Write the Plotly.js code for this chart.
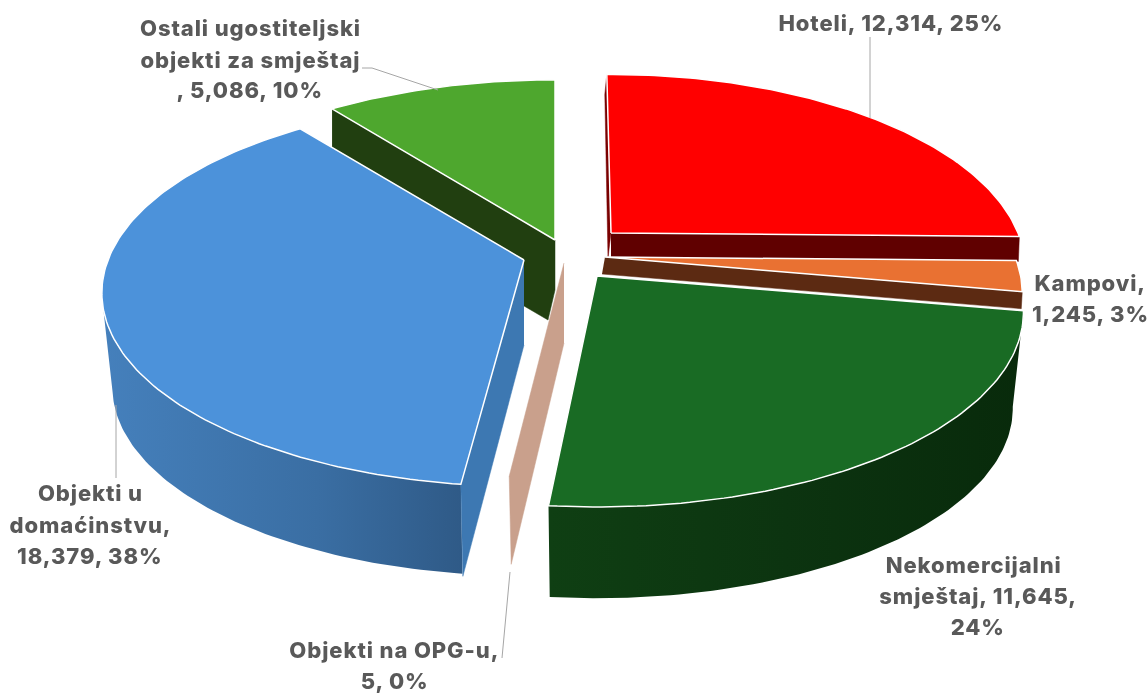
<!DOCTYPE html>
<html>
<head>
<meta charset="utf-8">
<script src="https://cdn.plot.ly/plotly-3.0.1.min.js"></script>
<style>
html,body{margin:0;padding:0;background:#fff;}
#chart{width:1148px;height:693px;filter:blur(0.45px);}
#chart text{letter-spacing:0.9px;}
</style>
</head>
<body>
<div id="chart"></div>
<script>
// ---- data ----
const categories = ["Hoteli","Kampovi","Nekomercijalni smještaj","Objekti na OPG-u","Objekti u domaćinstvu","Ostali ugostiteljski objekti za smještaj"];
const values = [12314,1245,11645,5,18379,5086];
const percents = [25,3,24,0,38,10];
const labelLines = [
  ["Hoteli, 12,314, 25%"],
  ["Kampovi,","1,245, 3%"],
  ["Nekomercijalni","smještaj, 11,645,","24%"],
  ["Objekti na OPG-u,","5, 0%"],
  ["Objekti u","domaćinstvu,","18,379, 38%"],
  ["Ostali ugostiteljski","objekti za smještaj",", 5,086, 10%"]
];

// ---- look of the exploded perspective pie ----
const topColors = ["#FF0000","#E97132","#196B24","#C9A08C","#4C92DA","#4EA72E"];
const shapes = [
  {apex:[611,233],R:407,H:188,k:0.186,nudge:[-0.7,0]},
  {apex:[605,257],R:410,H:188,k:0.186,nudge:[0,0]},
  {apex:[597,276],R:419,H:188,k:0.186,nudge:[0,-1.0]},
  {apex:[564,263],R:400,H:175,k:0.186,nudge:[0,0]},
  {apex:[524,260],R:416,H:188,k:0.170,nudge:[0.8,0]},
  {apex:[555,240],R:419,H:190,k:0.186,nudge:[0,0]}
];
const labelAt = [
  [[891,23]],
  [[1090,283],[1090,314]],
  [[973,565],[978,596],[977,627]],
  [[394,650],[394,681]],
  [[90,493],[90,525],[90,556]],
  [[250,28],[250,60],[250,90]]
];
const leaders = [
  [[870,37],[870,118]],
  [[362,68],[372,68],[438,90]],
  [[116,405],[116,478]],
  [[510,572],[502,658]]
];
const LABEL_FONT = {family:"Inter, 'Noto Sans', sans-serif", size:22, color:"#595959", weight:800};

// ---- geometry derived from the values ----
const total = values.reduce((a,b)=>a+b,0);
const bounds = [0];
values.forEach(v=>bounds.push(bounds[bounds.length-1]+v/total*360));

function project(g,deg){
  const t=deg*Math.PI/180, u=Math.sin(t), v=Math.cos(t), w=1/(1+g.k*v);
  return [g.apex[0]+g.R*u*w, g.apex[1]-g.H*v*w];
}
function angles(a,b){
  const out=[]; const n=Math.max(2,Math.ceil(Math.abs(b-a)));
  for(let i=0;i<=n;i++) out.push(a+(b-a)*i/n);
  return out;
}
function sliceRange(i){return [bounds[i]+shapes[i].nudge[0], bounds[i+1]+shapes[i].nudge[1]];}
function poly(pts,color,opts){
  const o=opts||{};
  const tr={type:"scatter",mode:"lines",x:pts.map(p=>p[0]),y:pts.map(p=>p[1]),fill:"toself",
    line:{color:o.line||color,width:o.width===undefined?0.5:o.width},hoverinfo:"skip",showlegend:false};
  if(o.gradient){tr.fillgradient={type:"horizontal",colorscale:o.gradient};}
  else{tr.fillcolor=color;}
  return tr;
}
function topFace(i){
  const [a,b]=sliceRange(i), g=shapes[i];
  const pts=[g.apex].concat(angles(a,b).map(t=>project(g,t)));
  pts.push(g.apex);
  return poly(pts,topColors[i],{line:"#FFFFFF",width:1.5});
}
function cutFace(i,useEnd,d1,d2,color){
  const [a,b]=sliceRange(i), g=shapes[i], r=project(g,useEnd?b:a);
  return poly([g.apex,r,[r[0]+d2[0],r[1]+d2[1]],[g.apex[0]+d1[0],g.apex[1]+d1[1]]],color);
}
function outerWall(i,from,to,dz,scale,gradient){
  const g=shapes[i], ang=angles(from,to);
  const rim=ang.map(t=>project(g,t));
  const low=ang.slice().reverse().map(t=>{
    const p=project(g,t);
    return [g.apex[0]+scale*(p[0]-g.apex[0]), g.apex[1]+dz+scale*(p[1]-g.apex[1])];
  });
  return poly(rim.concat(low,[rim[0]]),gradient[0][1],{gradient:gradient,line:"rgba(0,0,0,0)",width:0});
}

const traces=[];
// Ostali: wall behind the blue slice
(function(){
  const g=shapes[5], r=project(g,sliceRange(5)[0]), A=g.apex;
  traces.push(poly([r,A,[A[0],A[1]+50],[A[0]-7,A[1]+80],[r[0],r[1]+85]],"#213F10"));
  traces.push(topFace(5));
})();
// Hoteli
(function(){
  const g=shapes[0], A=g.apex, s=project(g,sliceRange(0)[0]);
  traces.push(poly([s,[s[0]-2,s[1]+20],[A[0]-3,A[1]+25],A],"#7A0000"));
  traces.push(cutFace(0,true,[0,25],[-1,25],"#600000"));
  traces.push(topFace(0));
})();
// Kampovi
traces.push(cutFace(1,true,[-3,17],[-1,17],"#5C2A12"));
traces.push(topFace(1));
// Nekomercijalni
(function(){
  const [a,b]=sliceRange(2);
  traces.push(outerWall(2,a,b,97,0.975,[[0,"#0F3F13"],[0.5,"#0C3410"],[1,"#082A0B"]]));
  traces.push(topFace(2));
})();
// Objekti na OPG-u: only the thin cut face is visible
traces.push(cutFace(3,false,[0,80],[2,88],topColors[3]));
// Objekti u domaćinstvu
(function(){
  const [a]=sliceRange(4);
  traces.push(outerWall(4,a,259,95,0.975,[[0,"#4580BC"],[0.6,"#3A6EA3"],[1,"#2F5A87"]]));
  traces.push(cutFace(4,false,[0,85],[2,92],"#3D78B2"));
  traces.push(topFace(4));
})();
// Leader lines
leaders.forEach(l=>traces.push({type:"scatter",mode:"lines",x:l.map(p=>p[0]),y:l.map(p=>p[1]),
  line:{color:"#A6A6A6",width:1},hoverinfo:"skip",showlegend:false}));

const annotations=[];
labelLines.forEach((lines,i)=>lines.forEach((txt,j)=>annotations.push({
  text:txt,x:labelAt[i][j][0],y:labelAt[i][j][1],xref:"x",yref:"y",showarrow:false,
  xanchor:"center",yanchor:"middle",font:LABEL_FONT
})));

Plotly.newPlot("chart",traces,{
  width:1148,height:693,margin:{l:0,r:0,t:0,b:0},
  paper_bgcolor:"#FFFFFF",plot_bgcolor:"#FFFFFF",showlegend:false,
  xaxis:{range:[0,1148],visible:false,fixedrange:true},
  yaxis:{range:[693,0],visible:false,fixedrange:true},
  annotations:annotations
},{displayModeBar:false,staticPlot:true});
</script>
</body>
</html>
